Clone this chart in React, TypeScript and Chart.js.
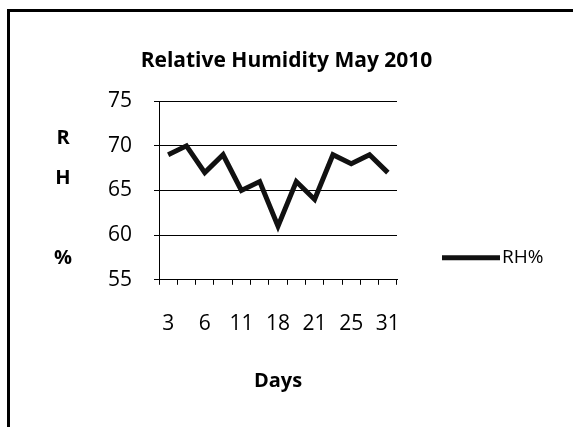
import React, { useEffect, useRef } from "react";
import { Chart, registerables } from "chart.js";

Chart.register(...registerables);

const days = ["3", "4", "6", "7", "11", "14", "18", "19", "21", "24", "25", "27", "31"];
const rhValues = [69, 70, 67, 69, 65, 66, 61, 66, 64, 69, 68, 69, 67];
const yTitleLines = ["R", "H", "", "%"];
const seriesName = "RH%";
const chartTitle = "Relative Humidity May 2010";
const xTitle = "Days";

const FONT = "'Open Sans', sans-serif";

const yTitlePlugin = {
  id: "yTitleStacked",
  afterDraw(chart: any) {
    const { ctx, chartArea } = chart;
    ctx.save();
    ctx.fillStyle = "#000";
    ctx.font = `bold 20px ${FONT}`;
    ctx.textAlign = "center";
    ctx.textBaseline = "middle";
    yTitleLines.forEach((t, i) => {
      ctx.fillText(t, chartArea.left - 96, chartArea.top + 37 + i * 40);
    });
    ctx.restore();
  },
};

const legendPlugin = {
  id: "customLegend",
  afterDraw(chart: any) {
    const { ctx, chartArea } = chart;
    const ds = chart.data.datasets[0];
    const y = chartArea.bottom - 22;
    const x0 = chartArea.right + 45;
    ctx.save();
    ctx.strokeStyle = ds.borderColor;
    ctx.lineWidth = ds.borderWidth;
    ctx.beginPath();
    ctx.moveTo(x0, y);
    ctx.lineTo(x0 + 58, y);
    ctx.stroke();
    ctx.fillStyle = "#000";
    ctx.font = `19px ${FONT}`;
    ctx.textAlign = "left";
    ctx.textBaseline = "middle";
    ctx.fillText(ds.label, x0 + 60, y);
    ctx.restore();
  },
};

export default function App() {
  const ref = useRef<HTMLCanvasElement>(null);
  useEffect(() => {
    if (!ref.current) return;
    const chart = new Chart(ref.current, {
      type: "line",
      data: {
        labels: days,
        datasets: [
          {
            label: seriesName,
            data: rhValues,
            borderColor: "#111",
            borderWidth: 5,
            pointRadius: 0,
            tension: 0,
            fill: false,
          },
        ],
      },
      options: {
        animation: false,
        responsive: false,
        layout: { padding: { left: 0, right: 0, top: 0, bottom: 30 } },
        plugins: {
          legend: { display: false },
          tooltip: { enabled: false },
          title: {
            display: true,
            text: chartTitle,
            color: "#000",
            font: { family: FONT, size: 21, weight: "bold" },
            padding: { top: 48, bottom: 28 },
          },
        },
        scales: {
          x: {
            offset: true,
            grid: {
              display: true,
              drawOnChartArea: false,
              offset: true,
              color: "#000",
              tickLength: 5,
            },
            border: { display: true, color: "#000", width: 1 },
            ticks: {
              autoSkip: false,
              maxRotation: 0,
              minRotation: 0,
              color: "#000",
              padding: 27,
              font: { family: FONT, size: 21 },
              callback: (_v: any, i: number) => (i % 2 === 0 ? days[i] : ""),
            },
            title: {
              display: true,
              text: xTitle,
              color: "#000",
              font: { family: FONT, size: 20, weight: "bold" },
              padding: { top: 5, bottom: 4 },
            },
          },
          y: {
            min: 55,
            max: 75,
            afterFit: (scale: any) => {
              scale.width = 159;
            },
            grid: { color: "#000", lineWidth: 1, tickLength: 5 },
            border: { display: true, color: "#000", width: 1 },
            ticks: {
              stepSize: 5,
              color: "#000",
              padding: 22,
              font: { family: FONT, size: 21 },
            },
          },
          legendSpace: {
            type: "linear",
            position: "right",
            display: true,
            afterFit: (scale: any) => {
              scale.width = 176;
            },
            grid: { display: false },
            border: { display: false },
            ticks: { display: false },
          },
        },
      },
      plugins: [yTitlePlugin, legendPlugin],
    });
    return () => chart.destroy();
  }, []);

  return (
    <div style={{ position: "fixed", left: 0, top: 0, width: 573, height: 427, background: "#fff" }}>
      <canvas ref={ref} width={573} height={427} style={{ display: "block" }} />
      <div
        style={{
          position: "absolute",
          left: 7,
          top: 9,
          width: 566,
          height: 418,
          boxSizing: "border-box",
          borderTop: "3px solid #000",
          borderLeft: "3px solid #000",
          pointerEvents: "none",
        }}
      />
    </div>
  );
}
